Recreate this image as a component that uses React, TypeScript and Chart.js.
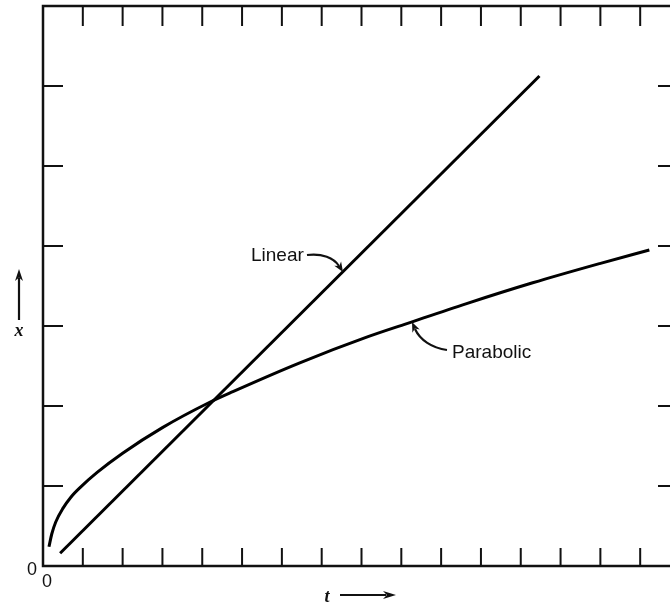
import React, { useEffect, useRef } from "react";
import { Chart, registerables } from "chart.js";

Chart.register(...registerables);

// time t (x axis) and thickness x (y axis)
const linearT = [0.43, 12.47];
const linearX = [0.16, 6.125];

const parabolicT = [0.15, 0.22, 0.32, 0.5, 0.7, 0.93, 1.36, 2.0, 3.0, 4.2, 4.77, 6.45, 8.13, 9.14, 10.64, 12.3, 13.98, 15.23];
const parabolicX = [0.24, 0.4, 0.55, 0.72, 0.86, 0.98, 1.17, 1.41, 1.73, 2.05, 2.18, 2.54, 2.86, 3.03, 3.28, 3.54, 3.78, 3.95];

const xTickValues = [1, 2, 3, 4, 5, 6, 7, 8, 9, 10, 11, 12, 13, 14, 15];
const yTickValues = [1, 2, 3, 4, 5, 6];

const seriesNames = ["Linear", "Parabolic"];

function arrowHead(ctx: CanvasRenderingContext2D, x: number, y: number, angle: number, len: number, wid: number) {
  ctx.save();
  ctx.translate(x, y);
  ctx.rotate(angle);
  ctx.beginPath();
  ctx.moveTo(0, 0);
  ctx.lineTo(-len, -wid / 2);
  ctx.lineTo(-len * 0.7, 0);
  ctx.lineTo(-len, wid / 2);
  ctx.closePath();
  ctx.fill();
  ctx.restore();
}

const framePlugin = {
  id: "framePlugin",
  afterDraw(chart: any) {
    const ctx: CanvasRenderingContext2D = chart.ctx;
    const { left, right, top, bottom } = chart.chartArea;
    const xs = chart.scales.x;
    const ys = chart.scales.y;
    ctx.save();
    ctx.strokeStyle = "#111";
    ctx.fillStyle = "#111";
    ctx.lineCap = "butt";
    // frame
    ctx.lineWidth = 2.5;
    ctx.strokeRect(left, top, right - left, bottom - top);
    // ticks
    ctx.lineWidth = 2;
    ctx.beginPath();
    for (const v of xTickValues) {
      const px = xs.getPixelForValue(v);
      ctx.moveTo(px, bottom);
      ctx.lineTo(px, bottom - 18);
      ctx.moveTo(px, top);
      ctx.lineTo(px, top + 20);
    }
    for (const v of yTickValues) {
      const py = ys.getPixelForValue(v);
      ctx.moveTo(left, py);
      ctx.lineTo(left + 20, py);
      ctx.moveTo(right, py);
      ctx.lineTo(right - 22, py);
    }
    ctx.stroke();

    // origin zeros
    ctx.font = "18px 'Liberation Sans', Arial, sans-serif";
    ctx.textAlign = "center";
    ctx.textBaseline = "alphabetic";
    ctx.fillText("0", left - 11, bottom + 9);
    ctx.fillText("0", left + 4, bottom + 21);

    // series labels
    ctx.font = "19px 'Liberation Sans', Arial, sans-serif";
    ctx.textAlign = "left";
    ctx.fillText(seriesNames[0], 251, 261);
    ctx.fillText(seriesNames[1], 452, 358);

    // Linear pointer arrow
    ctx.lineWidth = 2.2;
    ctx.beginPath();
    ctx.moveTo(307, 255);
    ctx.bezierCurveTo(322, 253, 334, 258, 339, 266);
    ctx.stroke();
    arrowHead(ctx, 343, 272, Math.atan2(8, 5), 10, 8);

    // Parabolic pointer arrow
    ctx.beginPath();
    ctx.moveTo(447, 350);
    ctx.bezierCurveTo(432, 348, 420, 340, 415, 329);
    ctx.stroke();
    arrowHead(ctx, 412, 322, Math.atan2(-9, -4), 10, 8);

    // axis names
    ctx.font = "bold italic 18px 'Liberation Serif', 'DejaVu Serif', serif";
    ctx.textAlign = "center";
    ctx.fillText("x", 19, 336);
    ctx.fillText("t", 327, 602);

    // axis arrows
    ctx.lineWidth = 2.2;
    ctx.beginPath();
    ctx.moveTo(19, 320);
    ctx.lineTo(19, 278);
    ctx.stroke();
    arrowHead(ctx, 19, 269, -Math.PI / 2, 12, 8);

    ctx.beginPath();
    ctx.moveTo(340, 595);
    ctx.lineTo(386, 595);
    ctx.stroke();
    arrowHead(ctx, 396, 595, 0, 13, 8);

    ctx.restore();
  },
};

export default function App() {
  const canvasRef = useRef<HTMLCanvasElement | null>(null);

  useEffect(() => {
    const canvas = canvasRef.current;
    if (!canvas) return;
    const chart = new Chart(canvas, {
      type: "line",
      data: {
        datasets: [
          {
            label: seriesNames[0],
            data: linearT.map((t, i) => ({ x: t, y: linearX[i] })),
            borderColor: "#000",
            borderWidth: 3,
            pointRadius: 0,
            fill: false,
          },
          {
            label: seriesNames[1],
            data: parabolicT.map((t, i) => ({ x: t, y: parabolicX[i] })),
            borderColor: "#000",
            borderWidth: 3,
            pointRadius: 0,
            fill: false,
            cubicInterpolationMode: "monotone",
          },
        ],
      },
      options: {
        responsive: false,
        animation: false,
        devicePixelRatio: 1,
        layout: { padding: { left: 43, top: 6, right: 20, bottom: 41 } },
        plugins: {
          legend: { display: false },
          tooltip: { enabled: false },
        },
        scales: {
          x: { type: "linear", min: 0, max: 16, display: false },
          y: { type: "linear", min: 0, max: 7, display: false },
        },
      },
      plugins: [framePlugin],
    });
    return () => chart.destroy();
  }, []);

  return (
    <div
      style={{
        position: "fixed",
        left: 0,
        top: 0,
        width: 670,
        height: 607,
        overflow: "hidden",
        background: "#fff",
      }}
    >
      <canvas ref={canvasRef} width={700} height={607} style={{ display: "block", width: 700, height: 607 }} />
    </div>
  );
}
